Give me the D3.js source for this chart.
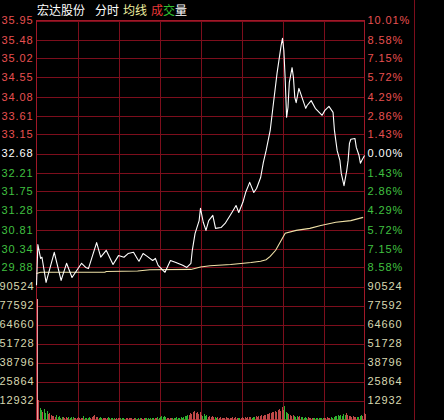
<!DOCTYPE html>
<html>
<head>
<meta charset="utf-8">
<script src="https://cdn.jsdelivr.net/npm/d3@7"></script>
<style>
  html, body { margin: 0; padding: 0; background: #000; }
  svg { display: block; }
  .lbl { font-family: "Liberation Sans", Arial, sans-serif; font-size: 11px; letter-spacing: 0.9px; }
</style>
</head>
<body>
<div id="content"></div>
<script>
// price axis labels (left) and pct labels (right)
const priceTicks = [35.95, 35.48, 35.02, 34.55, 34.08, 33.61, 33.15, 32.68, 32.21, 31.75, 31.28, 30.81, 30.34, 29.88];
const pctTicks = ["10.01%", "8.58%", "7.15%", "5.72%", "4.29%", "2.86%", "1.43%", "0.00%", "1.43%", "2.86%", "4.29%", "5.72%", "7.15%", "8.58%"];
const volTicks = [90524, 77592, 64660, 51728, 38796, 25864, 12932];
const prevClose = 32.68;
const priceLow = 29.41, priceHigh = 35.95;

// intraday price, [minute, price] at the turning points of the line
const pricePts = [
  [0, 29.44], [1, 30.44], [3, 30.10], [4, 30.13], [7, 29.51], [13, 30.25], [18, 29.56],
  [22, 29.98], [26, 29.63], [33, 29.98], [36, 29.88], [38, 29.85], [44, 30.49], [47, 30.13],
  [51, 30.30], [56, 29.95], [60, 30.17], [64, 30.13], [67, 30.22], [71, 30.25], [74, 30.08],
  [75, 30.03], [78, 30.22], [81, 30.15], [85, 30.05], [87, 30.10], [89, 29.93], [94, 29.76],
  [98, 30.05], [102, 30.00], [107, 29.93], [110, 29.88], [113, 29.98], [114, 30.30], [116, 30.71],
  [119, 31.03], [120, 31.33], [122, 30.99], [124, 30.79], [126, 31.03], [129, 31.16], [131, 30.84],
  [135, 30.86], [138, 30.96], [143, 31.23], [146, 31.40], [148, 31.23], [151, 31.48], [153, 31.72],
  [156, 31.97], [159, 31.72], [161, 31.82], [164, 32.09], [166, 32.46], [168, 32.75], [171, 33.25],
  [173, 33.81], [176, 34.65], [179, 35.34], [180, 35.51], [181, 35.21], [182, 34.48], [183, 33.57],
  [184, 33.81], [185, 34.43], [187, 34.79], [188, 34.55], [189, 34.06], [190, 33.93], [192, 34.28],
  [197, 33.79], [198, 33.86], [201, 33.98], [204, 33.79], [209, 33.62], [211, 33.74], [214, 33.84],
  [217, 33.69], [218, 33.25], [220, 32.75], [222, 32.51], [223, 32.19], [225, 31.89], [227, 32.26],
  [228, 32.51], [229, 32.93], [230, 33.03], [233, 33.05], [234, 32.83], [236, 32.63], [237, 32.44],
  [238, 32.51], [240, 32.63]
];

// average price line, [minute, price]
const avgPts = [
  [0, 29.73], [3, 29.76], [50, 29.76], [51, 29.78], [74, 29.79], [83, 29.82], [113, 29.83],
  [120, 29.89], [127, 29.92], [142, 29.95], [157, 30.00], [164, 30.03], [168, 30.07], [171, 30.15],
  [175, 30.30], [179, 30.54], [182, 30.72], [190, 30.79], [200, 30.84], [208, 30.91], [219, 30.99],
  [230, 31.03], [239, 31.11]
];

// volume per minute
const volumes = [
  82000, 13600, 7500, 6800, 5200, 7400, 4100, 5500, 3600, 4300, 3000,
  2200, 2600, 1800, 3100, 1500, 2400, 1300, 2000, 1700, 1200,
  1900, 1100, 1500, 900, 1400, 1700, 800, 1200, 1000, 1600, 1300, 700, 1100, 2100, 900, 1200, 800, 1500, 1000, 1800,
  2600, 3200, 2000, 1400, 1100, 1700, 900, 1300, 1000, 800, 1200, 1500, 700, 1000, 900, 1300, 600, 1100, 800, 1200,
  900, 700, 1100, 600, 1000, 800, 1200, 700, 900, 500, 800, 1100, 600, 900, 700, 1000, 500, 800, 1300, 700,
  900, 600, 1000, 700, 800, 1200, 900, 1500, 1100, 1800, 2200, 1700, 2500, 1400, 1200, 900, 1000, 800, 1300, 700,
  1000, 1400, 800, 1200, 1600, 1100, 1900, 2400, 2100, 3300, 2800, 4100, 3600, 5200, 6100, 4600, 5400, 3900, 4800, 3300,
  2700, 3600, 2200, 2900, 1900, 2400, 1600, 2100, 1400, 1800, 1200, 1600, 1000, 1400, 900, 1300, 1100, 1500, 800, 1200,
  1100, 900, 1400, 1000, 1700, 1200, 800, 1300, 1000, 1500, 1100, 1800, 1300, 2000, 1400, 1700, 1100, 1900, 1500, 2200,
  1800, 2600, 2100, 3000, 2500, 3400, 2900, 4000, 3500, 4600, 4100, 5300, 4800, 5900, 5200, 6600, 7000, 5800, 8600, 6200,
  9200, 5400, 4400, 3800, 3100, 2700, 3300, 2400, 2000, 2600, 1800, 2200, 1500, 1900, 1300, 1700, 1100, 1500, 1200, 1000,
  1300, 900, 1200, 800, 1000, 1100, 700, 900, 1200, 800, 1000, 1400, 900, 1200, 1600, 1000, 2000, 2500, 2100, 2800,
  2300, 3100, 2600, 3600, 2900, 4200, 3300, 2400, 2700, 1900, 2200, 1600, 2000, 1400, 1800, 2500, 3000, 2300, 4400, 3500
];

const W = 444, H = 420;
const margin = { left: 36, right: 80, top: 20, bottom: 1 };
const plotW = W - margin.left - margin.right;   // 328
const priceH = 266, volH = 133;

const svg = d3.select("#content").append("svg").attr("width", W).attr("height", H);
svg.append("rect").attr("width", W).attr("height", H).attr("fill", "#000");

const x = d3.scaleLinear().domain([0, 240]).range([0, plotW]);
const y = d3.scaleLinear().domain([priceLow, priceHigh]).range([priceH, 0]);
const yv = d3.scaleLinear().domain([0, 90524]).range([priceH + volH, priceH]);

const gridColor = "#7c0e1c";
const upColor = "#e85050", downColor = "#40c040", volLblColor = "#d8d8b0";

const g = svg.append("g").attr("transform", `translate(${margin.left + 0.5},${margin.top + 0.5})`);

// horizontal grid (price + volume)
g.append("g")
  .call(d3.axisLeft(y).tickValues(priceTicks).tickSize(-plotW).tickFormat(""))
  .call(a => a.select(".domain").remove())
  .call(a => a.selectAll("line").attr("stroke", gridColor).attr("shape-rendering", "crispEdges"));
g.append("g")
  .call(d3.axisLeft(yv).tickValues(volTicks).tickSize(-plotW).tickFormat(""))
  .call(a => a.select(".domain").remove())
  .call(a => a.selectAll("line").attr("stroke", gridColor).attr("shape-rendering", "crispEdges"));

// vertical grid every 30 minutes
g.append("g")
  .attr("transform", `translate(0,${priceH + volH})`)
  .call(d3.axisBottom(x).tickValues(d3.range(30, 240, 30)).tickSize(-(priceH + volH)).tickFormat(""))
  .call(a => a.select(".domain").remove())
  .call(a => a.selectAll("line").attr("stroke", gridColor).attr("shape-rendering", "crispEdges"));

// frame
g.append("rect").attr("x", 0).attr("y", 0).attr("width", Math.round(plotW)).attr("height", priceH + volH)
  .attr("fill", "none").attr("stroke", "#a01828").attr("shape-rendering", "crispEdges");
svg.append("line").attr("x1", 414.5).attr("x2", 414.5).attr("y1", 0).attr("y2", H)
  .attr("stroke", gridColor).attr("shape-rendering", "crispEdges");

// left labels
const tickColor = v => v > prevClose ? upColor : (v < prevClose ? downColor : "#ffffff");
g.append("g").selectAll("text").data(priceTicks).join("text")
  .attr("class", "lbl").attr("x", -3).attr("y", d => y(d)).attr("dy", "0.36em")
  .attr("text-anchor", "end").attr("fill", tickColor).text(d => d.toFixed(2));
g.append("g").selectAll("text").data(volTicks).join("text")
  .attr("class", "lbl").attr("x", -2).attr("y", d => yv(d)).attr("dy", "0.36em")
  .attr("text-anchor", "end").attr("fill", volLblColor).text(d => d);

// right labels
g.append("g").selectAll("text").data(priceTicks).join("text")
  .attr("class", "lbl").attr("x", plotW + 3).attr("y", d => y(d)).attr("dy", "0.36em")
  .attr("fill", tickColor).text((d, i) => pctTicks[i]);
g.append("g").selectAll("text").data(volTicks).join("text")
  .attr("class", "lbl").attr("x", plotW + 3).attr("y", d => yv(d)).attr("dy", "0.36em")
  .attr("fill", volLblColor).text(d => d);

// volume bars, coloured by minute-on-minute change of the price line
const priceAt = d3.scaleLinear().domain(pricePts.map(d => d[0])).range(pricePts.map(d => d[1]));
g.append("g").selectAll("line").data(volumes).join("line")
  .attr("x1", (d, i) => Math.round(x(i)) + 0.5).attr("x2", (d, i) => Math.round(x(i)) + 0.5)
  .attr("y1", yv(0)).attr("y2", d => yv(d))
  .attr("shape-rendering", "crispEdges")
  .attr("stroke", (d, i) => {
    if (i === 0) return "#e0a0a0";
    const diff = priceAt(i) - priceAt(i - 1);
    return diff > 0 ? "#c04848" : (diff < 0 ? "#30b030" : "#e0e0e0");
  });

// average line
const line = d3.line().x(d => x(d[0])).y(d => y(d[1]));
g.append("path").datum(avgPts).attr("d", line)
  .attr("fill", "none").attr("stroke", "#f0e2a8").attr("stroke-width", 1.1);

// price line
g.append("path").datum(pricePts).attr("d", line)
  .attr("fill", "none").attr("stroke", "#ffffff").attr("stroke-width", 1.1)
  .attr("stroke-linejoin", "round");

// header
const head = svg.append("text").attr("y", 15)
  .style("font-family", "'Noto Sans CJK SC', sans-serif").style("font-size", "12px");
head.append("tspan").attr("x", 37).attr("fill", "#ffffff").text("宏达股份");
head.append("tspan").attr("x", 95).attr("fill", "#ffffff").text("分时");
head.append("tspan").attr("x", 123).attr("fill", "#f0f0a0").text("均线");
head.append("tspan").attr("x", 151).attr("fill", "#e83838").text("成");
head.append("tspan").attr("fill", "#30c030").text("交");
head.append("tspan").attr("fill", "#ffffff").text("量");
</script>
</body>
</html>
